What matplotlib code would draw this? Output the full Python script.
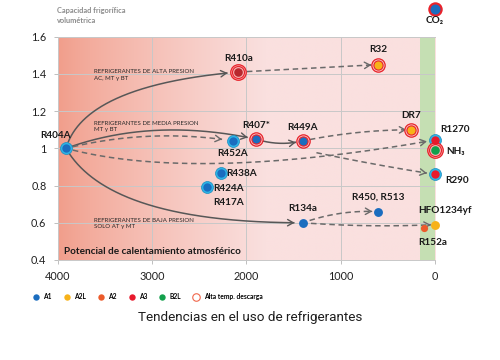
import numpy as np
import matplotlib
matplotlib.use('Agg')
import matplotlib.pyplot as plt
from matplotlib.patches import FancyArrowPatch
from matplotlib.lines import Line2D

plt.rcParams['font.family'] = ['Lato', 'DejaVu Sans']

# ---------------- data ----------------
names = ['R404A', 'R410a', 'R32', 'R452A', 'R407*', 'R449A', 'DR7', 'R1270',
         'NH₃', 'R290', 'R438A', 'R424A', 'R134a', 'R450, R513', 'HFO1234yf',
         'R152a', 'CO₂']
gwp = [3910, 2090, 600, 2140, 1900, 1400, 250, 0, 0, 0, 2265, 2420, 1400, 600, 0, 120, 0]
capacity = [1.0, 1.41, 1.45, 1.04, 1.05, 1.04, 1.10, 1.045, 0.99, 0.86, 0.87, 0.79,
            0.60, 0.66, 0.59, 0.57, 1.75]
safety = ['A1', 'A1', 'A2L', 'A1', 'A1', 'A1', 'A2L', 'A3', 'B2L', 'A3', 'A1', 'A1',
          'A1', 'A1', 'A2L', 'A2', 'A1']
ring = ['cyan', 'red2', 'red', 'cyan', 'red', 'red', 'red', 'cyan', 'red2', 'cyan',
        'cyan', 'cyan', 'none', 'none', 'none', 'small', 'co2']
extra_labels = {'R424A': 'R417A'}

# transitions: from, to, solid/dashed
transitions = [
    ('R404A', 'R410a', 'solid'),
    ('R404A', 'R407*', 'solid'),
    ('R404A', 'R134a', 'solid'),
    ('R407*', 'R449A', 'solid'),
    ('R404A', 'R452A', 'dashed'),
    ('R404A', 'R1270', 'dashed'),
    ('R407*', 'R290', 'dashed'),
    ('R410a', 'R32', 'dashed'),
    ('R449A', 'DR7', 'dashed'),
    ('R134a', 'R450, R513', 'dashed'),
    ('R134a', 'HFO1234yf', 'dashed'),
]

legend_labels = ['A1', 'A2L', 'A2', 'A3', 'B2L', 'Alta temp. descarga']

xticks = [4000, 3000, 2000, 1000, 0]
yticks = [0.4, 0.6, 0.8, 1.0, 1.2, 1.4, 1.6]
ytick_labels = ['0.4', '0.6', '0.8', '1', '1.2', '1.4', '1.6']

zones = [('REFRIGERANTES DE ALTA PRESION\nAC, MT y BT', 3610, 1.394),
         ('REFRIGERANTES DE MEDIA PRESION\nMT y BT', 3610, 1.117),
         ('REFRIGERANTES DE BAJA PRESION\nSOLO AT y MT', 3610, 0.596)]

# ---------------- styles ----------------
cls_color = {'A1': '#1B6DBF', 'A2L': '#F7B219', 'A2': '#EC5B2B', 'A3': '#E8192C',
             'B2L': '#13A04C'}
fill_override = {'R410a': '#B8282E'}
CYAN = '#2DB4E6'
RED = '#E8232B'

# curve geometry (display-space), shrink in px
curve_geom = {
    ('R404A', 'R410a'): (('angle', 74, 5), 6, 10),
    ('R404A', 'R407*'): (('angle', 20, -12), 6, 8),
    ('R404A', 'R134a'): (('angle', -60, 0), 6, 8),
    ('R407*', 'R449A'): (('rad', 0.14), 7, 7),
    ('R404A', 'R452A'): (('rad', -0.1), 7, 11),
    ('R404A', 'R1270'): (('angle', -15, 10), 7, 8),
    ('R407*', 'R290'): (('rad', 0.02), 62, 8),
    ('R410a', 'R32'): (('rad', 0.0), 9, 7),
    ('R449A', 'DR7'): (('rad', -0.05), 7, 5),
    ('R134a', 'R450, R513'): (('rad', -0.1), 7, 6),
    ('R134a', 'HFO1234yf'): (('rad', 0.03), 8, 4),
}

label_pos = {  # dx, dy (pixels), ha
    'R404A': (-10, 13, 'center'), 'R410a': (1, 14, 'center'), 'R32': (0, 15, 'center'),
    'R452A': (0, -12.5, 'center'), 'R407*': (1, 13.5, 'center'), 'R449A': (0, 13.5, 'center'),
    'DR7': (0, 14, 'center'), 'R1270': (5.5, 10, 'left'), 'NH₃': (11, -1, 'left'),
    'R290': (10, -6, 'left'), 'R438A': (5.5, -0.5, 'left'), 'R424A': (6.5, -1, 'left'),
    'R134a': (0, 14, 'center'), 'R450, R513': (0, 14, 'center'),
    'HFO1234yf': (-17, 14.3, 'left'), 'R152a': (9.5, -14.4, 'center'), 'CO₂': (0, -12, 'center'),
}

fig = plt.figure(figsize=(5, 3.6), dpi=100)
ax = fig.add_axes([57.5 / 500, 1 - 260 / 360, 377.5 / 500, 223.3 / 360])
ax.set_xlim(4000, 0)
ax.set_ylim(0.4, 1.6)

# background gradient
xs = np.linspace(4000, 0, 400)
frac = np.clip((4000 - xs) / 2200, 0, 1) ** 0.8
c0 = np.array([241, 157, 138]) / 255
c1 = np.array([250, 224, 223]) / 255
grad = (c0[None, :] * (1 - frac[:, None]) + c1[None, :] * frac[:, None])[None, :, :]
ax.imshow(grad, extent=[4000, 0, 0.4, 1.6], aspect='auto', zorder=0, interpolation='bilinear')
ax.axvspan(160, 0, color='#C5DFB3', zorder=0.5, lw=0)

ax.set_xticks(xticks)
ax.set_yticks(yticks)
ax.set_yticklabels(ytick_labels)
ax.grid(True, color='#C8C8C8', lw=0.7)
for s in ['left', 'right']:
    ax.spines[s].set_visible(False)
for s in ['top', 'bottom']:
    ax.spines[s].set_color('#C8C8C8')
    ax.spines[s].set_linewidth(0.7)
ax.tick_params(axis='both', length=3, width=0.7, color='#BFBFBF', labelsize=7.8,
               labelcolor='#222222', pad=5)

pts = {n: (g, c) for n, g, c in zip(names, gwp, capacity)}

# curves
T = ax.transData
for a, b, style in transitions:
    conn, shA, shB = curve_geom[(a, b)]
    A = T.transform(pts[a])
    B = T.transform(pts[b])
    if conn[0] == 'rad':
        f = conn[1]
        mid = (A + B) / 2
        d = B - A
        C = np.array([mid[0] + f * d[1], mid[1] - f * d[0]])
    else:
        ra, rb = np.radians(conn[1]), np.radians(conn[2])
        da = np.array([np.cos(ra), np.sin(ra)])
        db = np.array([np.cos(rb), np.sin(rb)])
        s, u = np.linalg.solve(np.column_stack([da, -db]), B - A)
        C = A + s * da
    t = np.linspace(0, 1, 600)[:, None]
    P = (1 - t) ** 2 * A + 2 * t * (1 - t) * C + t ** 2 * B
    dA = np.hypot(*(P - A).T)
    dB = np.hypot(*(P - B).T)
    P = P[(dA >= shA) & (dB >= shB)]
    D = T.inverted().transform(P)
    col = '#575757' if style == 'solid' else '#6A6A6A'
    ls = '-' if style == 'solid' else (0, (3.6, 2.4))
    ax.plot(D[:, 0], D[:, 1], color=col, lw=1.1, ls=ls, zorder=2, solid_capstyle='butt')
    ax.add_patch(FancyArrowPatch(tuple(D[-6]), tuple(D[-1]),
                                 arrowstyle='->,head_length=4,head_width=2.3',
                                 mutation_scale=1, shrinkA=0, shrinkB=0,
                                 color=col, lw=1.0, zorder=2))

# markers
def mk(x, y, ms, fc, ec='none', mew=0, z=4):
    ax.plot([x], [y], 'o', ms=ms, mfc=fc, mec=ec, mew=mew, zorder=z, clip_on=False)

for n, g, c, sc, r in zip(names, gwp, capacity, safety, ring):
    col = fill_override.get(n, cls_color[sc])
    if r == 'cyan':
        mk(g, c, 8.6, CYAN, '#1C8CC0', 0.5, 4)
        mk(g, c, 6.0, col, 'none', 0, 5)
    elif r == 'red':
        mk(g, c, 9.6, '#F8C4C4', RED, 0.9, 4)
        mk(g, c, 6.6, col, RED, 0.8, 5)
    elif r == 'red2':
        mk(g, c, 11.2, '#F7A8A8', RED, 0.9, 4)
        mk(g, c, 8.6, '#F6B8B8', RED, 0.8, 5)
        mk(g, c, 6.2, col, 'none', 0, 6)
    elif r == 'co2':
        mk(g, c, 8.8, col, RED, 1.6, 4)
    elif r == 'small':
        mk(g, c, 5.2, col, 'none', 0, 4)
    else:
        mk(g, c, 6.4, col, 'none', 0, 4)

# labels
for n, g, c in zip(names, gwp, capacity):
    dx, dy, ha = label_pos[n]
    ax.annotate(n, (g, c), xytext=(dx, dy), textcoords='offset pixels', ha=ha, va='center',
                fontsize=7.2, fontweight='bold', color='#1A1A1A', zorder=7,
                annotation_clip=False)
    if n in extra_labels:
        ax.annotate(extra_labels[n], (g, c), xytext=(dx, dy - 14.4), textcoords='offset pixels',
                    ha=ha, va='center', fontsize=7.2, fontweight='bold', color='#1A1A1A',
                    zorder=7, annotation_clip=False)

for txt, x, y in zones:
    ax.text(x, y, txt, fontsize=4.4, color='#2A2A2A', ha='left', va='center',
            linespacing=1.45, zorder=3)

ax.text(3930, 0.443, 'Potencial de calentamiento atmosférico', fontsize=7.2,
        fontweight='bold', color='#1A1A1A', ha='left', va='center', zorder=3)

fig.text(57 / 500, 1 - 15.5 / 360, 'Capacidad frigorífica\nvolumétrica', fontsize=5.3,
         fontweight='bold', color='#8A8A8A', ha='left', va='center', linespacing=1.5)

# legend
handles = []
for lab in legend_labels:
    if lab in cls_color:
        handles.append(Line2D([], [], ls='none', marker='o', ms=4.6, mfc=cls_color[lab],
                              mec='none'))
    else:
        handles.append(Line2D([], [], ls='none', marker='o', ms=5.4, mfc='white',
                              mec='#F0664A', mew=0.8))
leg = fig.legend(handles, legend_labels, loc='center left', ncol=6, frameon=False,
                 bbox_to_anchor=(29 / 500, 1 - 296.5 / 360), handlelength=1.0,
                 handletextpad=0.6, columnspacing=1.75, borderpad=0,
                 prop={'size': 4.8, 'weight': 'bold'})

fig.text(0.5, 1 - 318 / 360, 'Tendencias en el uso de refrigerantes',
         family=['Roboto', 'DejaVu Sans'], fontweight='normal', fontsize=9.7, color='#1E1E1E',
         ha='center', va='center')

fig.savefig('out.png', dpi=100)
